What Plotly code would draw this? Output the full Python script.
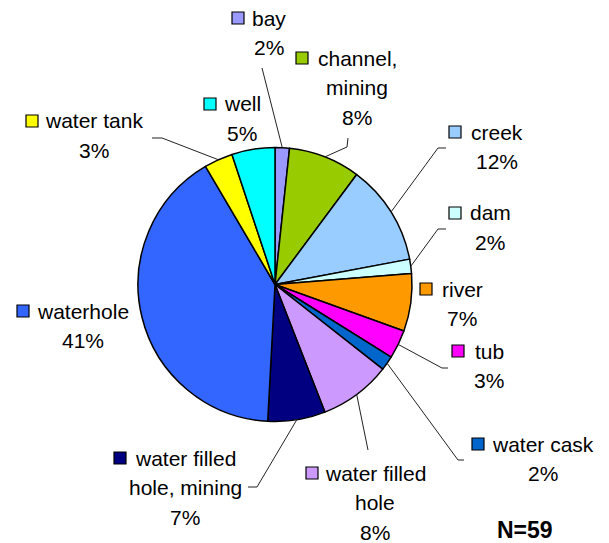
import numpy as np
import plotly.graph_objects as go

# Water source types (N=59), clockwise from 12 o'clock
sources = ["bay", "channel,<br>mining", "creek", "dam", "river", "tub",
           "water cask", "water filled<br>hole", "water filled<br>hole, mining",
           "waterhole", "water tank", "well"]
counts = [1, 5, 7, 1, 4, 2, 1, 5, 4, 24, 2, 3]
colors = ["#9999FF", "#99CC00", "#99CCFF", "#CCFFFF", "#FF9900", "#FF00FF",
          "#0066CC", "#CC99FF", "#000080", "#3366FF", "#FFFF00", "#00FFFF"]
n_total = sum(counts)

# page body has an 8px margin, so the figure is a bit smaller than the window
OFF = 8
W, H = 609 - OFF, 543 - OFF
cx, cy, r = 275, 284.5, 137  # pie centre / radius in window pixels

# label layout: text centre x, first line y, key square left x,
# leader line bends/ends (after the start point on the pie edge)
label_pos = [
    (269, 18, 232, [(262, 68)]),
    (357, 58, 296, [(347, 147), (348, 138)]),
    (497, 132, 449, [(438, 148), (446, 148)]),
    (490, 213, 449, [(438, 229), (446, 229)]),
    (462, 289, 420, None),
    (489, 351, 452, [(442, 368), (448, 368)]),
    (543, 444, 472, [(458, 460), (464, 460)]),
    (375, 473, 306, [(368, 450)]),
    (185, 458, 114, [(257, 487), (248, 487)]),
    (83, 311, 17, None),
    (94, 121, 26, [(162, 138), (152, 138)]),
    (242, 104, 204, None),
]
line_gap = 29.5
fs = 21


def px(x):
    return (x - OFF) / W


def py(y):
    return 1 - (y - OFF) / H


fig = go.Figure()
fig.add_trace(go.Pie(
    labels=sources, values=counts, sort=False, direction="clockwise",
    rotation=0, textinfo="none", hoverinfo="label+percent",
    marker=dict(colors=colors, line=dict(color="black", width=1.5)),
    domain=dict(x=[px(cx - r), px(cx + r)], y=[py(cy + r), py(cy - r)]),
    showlegend=False,
))

shapes, annotations = [], []
cum = np.cumsum([0] + counts)
for i, (name, c) in enumerate(zip(sources, counts)):
    tx, ty, sqx, leader = label_pos[i]
    lines = name.split("<br>") + [f"{round(100 * c / n_total)}%"]
    for k, txt in enumerate(lines):
        annotations.append(dict(
            x=px(tx), y=py(ty + k * line_gap), xref="paper", yref="paper",
            text=txt, showarrow=False, xanchor="center", yanchor="middle",
            font=dict(family="Liberation Sans, Arial", size=fs, color="black"),
        ))
    # key square
    shapes.append(dict(type="rect", xref="paper", yref="paper",
                       x0=px(sqx), x1=px(sqx + 12), y0=py(ty - 6), y1=py(ty + 6),
                       fillcolor=colors[i], line=dict(color="black", width=1.2)))
    # leader line from slice mid-arc
    if leader:
        ang = 2 * np.pi * (cum[i] + c / 2) / n_total
        x0 = cx + r * np.sin(ang)
        y0 = cy - r * np.cos(ang)
        pts = [(x0, y0)] + leader
        path = "M " + " L ".join(f"{px(a):.5f},{py(b):.5f}" for a, b in pts)
        shapes.append(dict(type="path", path=path, xref="paper", yref="paper",
                           line=dict(color="#222222", width=1)))

annotations.append(dict(
    x=px(525), y=py(530), xref="paper", yref="paper", text="<b>N=59</b>",
    showarrow=False, xanchor="center", yanchor="middle",
    font=dict(family="Liberation Sans, Arial", size=23, color="black"),
))

fig.update_layout(
    width=W, height=H,
    margin=dict(l=0, r=0, t=0, b=0),
    paper_bgcolor="white", plot_bgcolor="white",
    shapes=shapes, annotations=annotations,
)

fig.write_html("out.html")
